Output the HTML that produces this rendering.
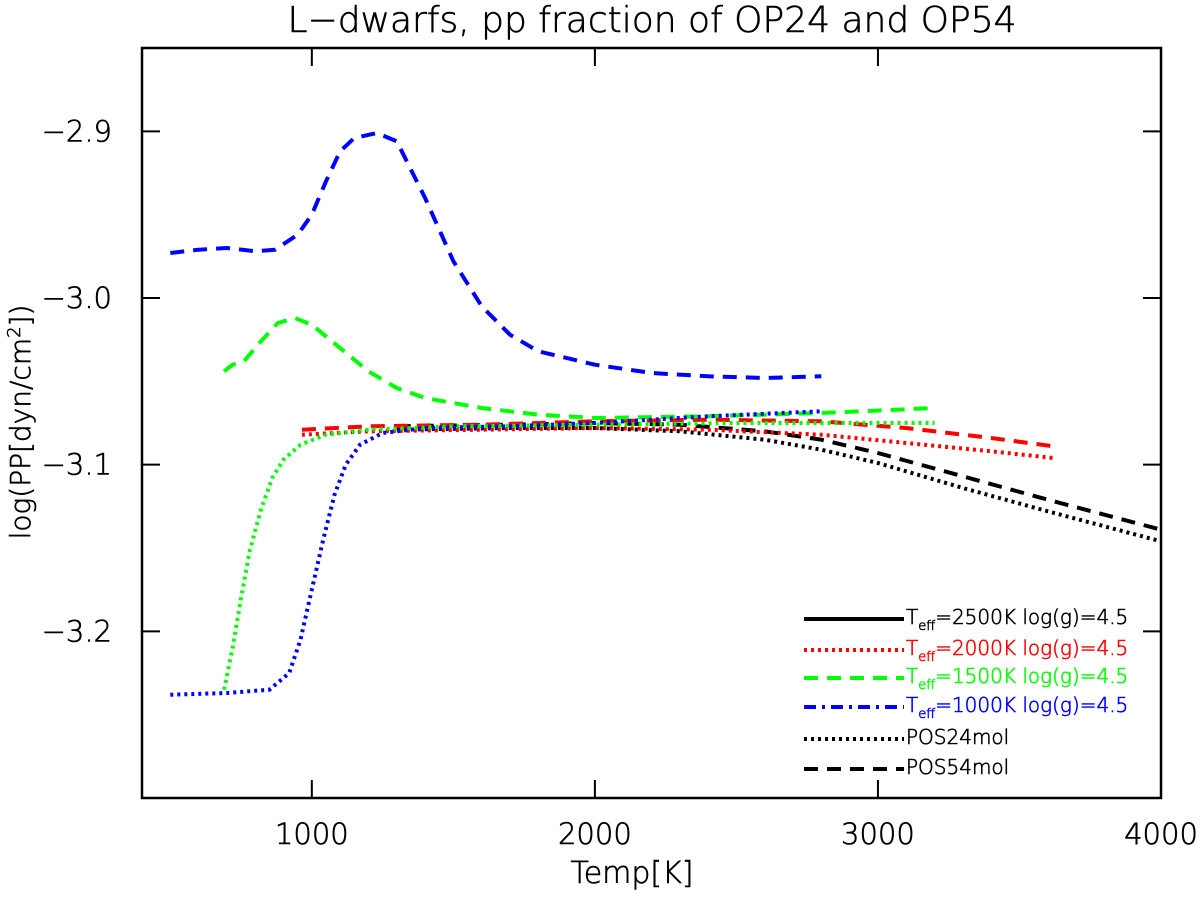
<!DOCTYPE html>
<html><head><meta charset="utf-8"><style>
body{margin:0;background:#fff}
svg text{font-family:"DejaVu Sans","Liberation Sans",sans-serif;font-weight:200;stroke-width:0.6}
</style></head><body>
<svg id="chart" width="1200" height="893" xmlns="http://www.w3.org/2000/svg">
<text x="652" y="32" font-size="36" text-anchor="middle" fill="#000" stroke="#000">L−dwarfs, pp fraction of OP24 and OP54</text>
<text x="632" y="883" font-size="30" text-anchor="middle" stroke="#000">Temp[K]</text>
<text transform="translate(30,422) rotate(-90)" font-size="28" text-anchor="middle" stroke="#000">log(PP[dyn/cm<tspan dy="-10" font-size="18">2</tspan><tspan dy="10">])</tspan></text>
<g id="axes"></g><g id="series"></g><g id="legend"></g>
</svg>
<script>
const xTicks=[1000,2000,3000,4000];
const yTicks=[-2.9,-3.0,-3.1,-3.2];
const yTickLabels=["−2.9","−3.0","−3.1","−3.2"];
const blueDashT=[500,600,700,800,870,950,1000,1050,1100,1150,1230,1300,1400,1500,1600,1700,1800,2000,2200,2400,2600,2800];
const blueDashV=[-2.973,-2.971,-2.970,-2.972,-2.971,-2.962,-2.950,-2.930,-2.912,-2.904,-2.901,-2.906,-2.940,-2.978,-3.005,-3.022,-3.032,-3.040,-3.045,-3.047,-3.048,-3.047];
const blueDotT=[500,700,850,920,960,1000,1040,1080,1120,1170,1250,1400,1700,2000,2400,2800];
const blueDotV=[-3.238,-3.237,-3.235,-3.225,-3.205,-3.175,-3.145,-3.118,-3.100,-3.088,-3.081,-3.078,-3.077,-3.075,-3.071,-3.068];
const greenDashT=[690,720,760,820,880,940,1000,1100,1200,1300,1400,1600,1800,2000,2400,2800,3200];
const greenDashV=[-3.044,-3.040,-3.038,-3.026,-3.015,-3.012,-3.016,-3.030,-3.044,-3.054,-3.060,-3.066,-3.070,-3.072,-3.071,-3.069,-3.066];
const greenDotT=[690,720,750,780,820,860,900,960,1050,1200,1500,2000,2500,3200];
const greenDotV=[-3.235,-3.210,-3.180,-3.152,-3.127,-3.108,-3.097,-3.088,-3.082,-3.079,-3.077,-3.076,-3.075,-3.075];
const redDashT=[965,1200,1600,2000,2400,2800,3100,3400,3620];
const redDashV=[-3.079,-3.077,-3.076,-3.074,-3.073,-3.074,-3.078,-3.084,-3.089];
const redDotT=[965,1200,1600,2000,2400,2800,3100,3400,3620];
const redDotV=[-3.082,-3.080,-3.079,-3.078,-3.079,-3.082,-3.087,-3.092,-3.096];
const blackDashT=[1300,1700,2000,2300,2600,2800,3000,3300,3600,4000];
const blackDashV=[-3.077,-3.076,-3.075,-3.076,-3.080,-3.085,-3.093,-3.107,-3.121,-3.139];
const blackDotT=[1300,1700,2000,2300,2600,2800,3000,3300,3600,4000];
const blackDotV=[-3.079,-3.078,-3.078,-3.080,-3.085,-3.091,-3.099,-3.114,-3.128,-3.146];
const legendLabels=["2500K","2000K","1500K","1000K"];

const L=142,R=1161,T=48,B=798,XMIN=400,XMAX=4000,YMIN=-3.3,YMAX=-2.85;
const xs=t=>L+(t-XMIN)/(XMAX-XMIN)*(R-L);
const ys=v=>B-(v-YMIN)/(YMAX-YMIN)*(B-T);
const NS="http://www.w3.org/2000/svg";
function mk(tag,parent,attrs){const e=document.createElementNS(NS,tag);for(const k in attrs)e.setAttribute(k,attrs[k]);document.getElementById(parent).appendChild(e);return e;}
const fr=mk('rect','axes',{x:L,y:T,width:R-L,height:B-T,fill:'none',stroke:'#000','stroke-width':2.5});


xTicks.forEach(t=>{
  const x=xs(t);
  if(t<XMAX){
    const a=mk('line','axes',{x1:x,x2:x,y1:B,y2:B-18,stroke:'#000','stroke-width':2});
    
    
    const b=mk('line','axes',{x1:x,x2:x,y1:T,y2:T+18,stroke:'#000','stroke-width':2});
    
    
  }
  const tx=mk('text','axes',{x:x,y:B+46,'font-size':29,'text-anchor':'middle',stroke:'#000'});
  tx.textContent=t;
  
  
});
yTicks.forEach((v,i)=>{
  const y=ys(v);
  const a=mk('line','axes',{x1:L,x2:L+18,y1:y,y2:y,stroke:'#000','stroke-width':2});
  
  
  const b=mk('line','axes',{x1:R,x2:R-18,y1:y,y2:y,stroke:'#000','stroke-width':2});
  
  
  const tx=mk('text','axes',{x:L-30,y:y+10,'font-size':29,'text-anchor':'end',stroke:'#000'});
  tx.textContent=yTickLabels[i];
  
  
});
const DASH='14,9',DOT='3,4',DASHDOT='12,6,3,6';
function series(Ts,Vs,color,dash,name){
  const d=Ts.map((t,i)=>(i?'L':'M')+xs(t).toFixed(1)+','+ys(Vs[i]).toFixed(1)).join(' ');
  const p=mk('path','series',{d:d,fill:'none',stroke:color,'stroke-width':4,'stroke-dasharray':dash,'stroke-linejoin':'round'});
  
  
}
series(blackDotT,blackDotV,'#000',DOT,'line-2500k-pos24');
series(blackDashT,blackDashV,'#000',DASH,'line-2500k-pos54');
series(redDotT,redDotV,'#f00',DOT,'line-2000k-pos24');
series(redDashT,redDashV,'#f00',DASH,'line-2000k-pos54');
series(greenDotT,greenDotV,'#0f0',DOT,'line-1500k-pos24');
series(greenDashT,greenDashV,'#0f0',DASH,'line-1500k-pos54');
series(blueDotT,blueDotV,'#00f',DOT,'line-1000k-pos24');
series(blueDashT,blueDashV,'#00f',DASH,'line-1000k-pos54');
const lc=['#000','#f00','#0f0','#00f'];
const ld=['none',DOT,DASH,DASHDOT];
const ly=[619,650,678,707,739,769];
for(let i=0;i<6;i++){
  const col=i<4?lc[i]:'#000';
  const dash=i<4?ld[i]:(i==4?DOT:DASH);
  const ln=mk('line','legend',{x1:804,x2:904,y1:ly[i],y2:ly[i],stroke:col,'stroke-width':4,'stroke-dasharray':dash});
  
  
  const tx=mk('text','legend',{x:906,y:ly[i]+5,'font-size':20,fill:col,stroke:col});
  if(i<4){
    tx.innerHTML='T<tspan font-size="13" dy="6">eff</tspan><tspan dy="-6">='+legendLabels[i]+'  log(g)=4.5</tspan>';
  } else tx.textContent=i==4?'POS24mol':'POS54mol';
  tx.setAttribute('xml:space','preserve');
  
  
}
</script>
</body></html>
